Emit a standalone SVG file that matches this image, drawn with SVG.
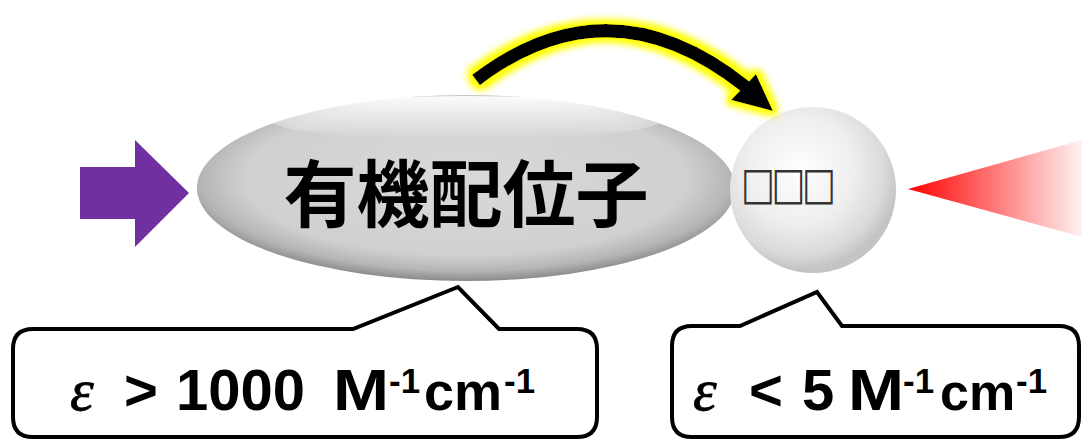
<svg xmlns="http://www.w3.org/2000/svg" width="1082" height="440" viewBox="0 0 1082 440">
<style>
.lbl{font-family:"Liberation Sans",Arial,sans-serif;font-weight:bold;fill:#000;}
.big{font-size:58px;}
.sup{font-size:35px;}
.eps{font-family:"Liberation Serif","Times New Roman",serif;font-style:italic;font-size:60px;fill:#000;stroke:#000;stroke-width:0.8;}
.callout{fill:#fff;stroke:#000;stroke-width:4;stroke-linejoin:miter;}
</style>
<defs>
<radialGradient id="gEll" cx="0.5" cy="0.45" r="0.55">
<stop offset="0" stop-color="#d9d9d9"/>
<stop offset="0.75" stop-color="#d0d0d0"/>
<stop offset="0.9" stop-color="#b5b5b5"/>
<stop offset="1" stop-color="#8a8a8a"/>
</radialGradient>
<linearGradient id="gEllHi" x1="0" y1="0" x2="0" y2="1">
<stop offset="0" stop-color="#ffffff" stop-opacity="0.95"/>
<stop offset="1" stop-color="#ffffff" stop-opacity="0"/>
</linearGradient>
<radialGradient id="gSph" cx="0.42" cy="0.38" r="0.6">
<stop offset="0" stop-color="#ffffff"/>
<stop offset="0.55" stop-color="#eeeeee"/>
<stop offset="0.85" stop-color="#dadada"/>
<stop offset="1" stop-color="#c4c4c4"/>
</radialGradient>
<linearGradient id="gRed" gradientUnits="userSpaceOnUse" x1="908" y1="0" x2="1082" y2="0">
<stop offset="0" stop-color="#ff0000"/>
<stop offset="1" stop-color="#ff0000" stop-opacity="0.05"/>
</linearGradient>
<filter id="glow" x="-20%" y="-40%" width="140%" height="180%">
<feMorphology in="SourceAlpha" operator="dilate" radius="5" result="d"/>
<feGaussianBlur in="d" stdDeviation="3" result="b"/>
<feFlood flood-color="#ffff00"/>
<feComposite in2="b" operator="in" result="y"/>
<feMerge><feMergeNode in="y"/><feMergeNode in="SourceGraphic"/></feMerge>
</filter>
</defs>

<g id="input-arrow">
<polygon points="80,167 135,167 135,140 189,193 135,247 135,219 80,219" fill="#7030a0"/>
</g>

<g id="ligand">
<ellipse cx="466" cy="188" rx="269" ry="93" fill="url(#gEll)"/>
<ellipse cx="466" cy="118" rx="200" ry="22" fill="url(#gEllHi)"/>
<text class="lbl" x="466" y="221" text-anchor="middle" font-size="73" style="font-family:'Noto Sans CJK JP','Noto Sans CJK SC',sans-serif;font-weight:bold">有機配位子</text>
</g>

<g id="metal">
<circle cx="813" cy="190" r="83" fill="url(#gSph)"/>
<text transform="translate(741,199) scale(1,1.26)" x="0" y="0" font-size="36" fill="#333" style="font-family:'DejaVu Sans',sans-serif" textLength="95" lengthAdjust="spacing">□□□</text>
</g>

<g id="emission">
<polygon points="908,189 1082,140 1082,237" fill="url(#gRed)"/>
</g>

<g id="connectors">
<g filter="url(#glow)">
<path d="M476,80 Q610,-22 746,87" fill="none" stroke="#000" stroke-width="13"/>
<polygon points="773,111 756,74 731,100" fill="#000"/>
</g>
</g>

<g id="callout-ligand">
<path class="callout" d="M33,329 H353 L458,287 L499,329 H577 Q597,329 597,349 V417 Q597,437 577,437 H33 Q13,437 13,417 V349 Q13,329 33,329 Z"/>
<text class="eps" x="70" y="410">ε</text>
<text class="lbl big" x="124" y="410">&gt;</text>
<text class="lbl big" x="176" y="410">1000</text>
<text class="lbl big" y="410"><tspan x="333" textLength="56" lengthAdjust="spacingAndGlyphs">M</tspan><tspan class="sup" x="389" y="393">-1</tspan><tspan x="424" y="410" font-size="54">cm</tspan><tspan class="sup" x="504" y="393">-1</tspan></text>
</g>

<g id="callout-metal">
<path class="callout" d="M692,326 H740 L817,292 L842,326 H1059 Q1079,326 1079,346 V417 Q1079,437 1059,437 H692 Q672,437 672,417 V346 Q672,326 692,326 Z"/>
<text class="eps" x="693" y="410">ε</text>
<text class="lbl big" x="749" y="410">&lt;</text>
<text class="lbl big" x="802" y="410">5</text>
<text class="lbl big" y="410"><tspan x="848" textLength="56" lengthAdjust="spacingAndGlyphs">M</tspan><tspan class="sup" x="903" y="393">-1</tspan><tspan x="940" y="410" font-size="52">cm</tspan><tspan class="sup" x="1016" y="393">-1</tspan></text>
</g>
</svg>
